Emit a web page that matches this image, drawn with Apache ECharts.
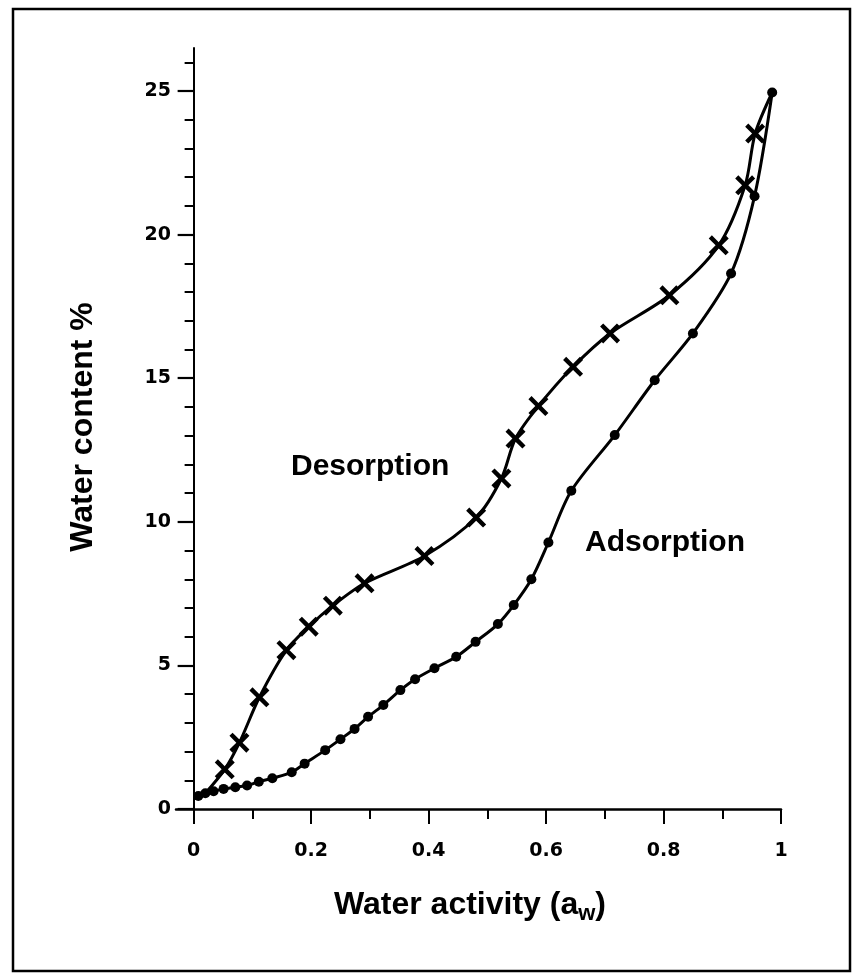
<!DOCTYPE html>
<html>
<head>
<meta charset="utf-8">
<script src="https://cdn.jsdelivr.net/npm/echarts@6/dist/echarts.min.js"></script>
<style>
html,body{margin:0;padding:0;background:#fff;}
#chart{width:852px;height:978px;}
</style>
</head>
<body>
<div id="chart"></div>
<script>
// ---- data ----
const adsorptionX = [0.008, 0.02, 0.034, 0.051, 0.071, 0.091, 0.111, 0.134, 0.167, 0.189, 0.224, 0.25, 0.274, 0.297, 0.323, 0.352, 0.377, 0.41, 0.447, 0.48, 0.518, 0.545, 0.575, 0.604, 0.643, 0.717, 0.785, 0.85, 0.915, 0.955, 0.985];
const adsorptionY = [0.45, 0.55, 0.62, 0.7, 0.76, 0.82, 0.95, 1.07, 1.28, 1.58, 2.05, 2.43, 2.79, 3.21, 3.62, 4.14, 4.52, 4.9, 5.3, 5.82, 6.44, 7.1, 8.0, 9.28, 11.08, 13.02, 14.93, 16.56, 18.65, 21.34, 24.95];
const desorptionX = [0.02, 0.053, 0.078, 0.112, 0.158, 0.196, 0.237, 0.291, 0.393, 0.481, 0.524, 0.548, 0.587, 0.646, 0.709, 0.81, 0.894, 0.939, 0.956, 0.985];
const desorptionY = [0.55, 1.38, 2.31, 3.89, 5.53, 6.35, 7.08, 7.86, 8.81, 10.15, 11.51, 12.9, 14.03, 15.4, 16.56, 17.89, 19.63, 21.72, 23.52, 24.95];
const xMajorTicks = [0, 0.2, 0.4, 0.6, 0.8, 1];
const xMinorTicks = [0.1, 0.3, 0.5, 0.7, 0.9];
const yMajorTicks = [0, 5, 10, 15, 20, 25];
const yMinorTicks = [1, 2, 3, 4, 6, 7, 8, 9, 11, 12, 13, 14, 16, 17, 18, 19, 21, 22, 23, 24, 26];
const xTitle = 'Water activity (a';
const xTitleSub = 'w';
const xTitleEnd = ')';
const yTitle = 'Water content %';
const labelDes = 'Desorption';
const labelAds = 'Adsorption';

const adsData = adsorptionX.map((x, i) => [x, adsorptionY[i]]);
const desData = desorptionX.map((x, i) => {
  const item = { value: [x, desorptionY[i]] };
  if (i === 0 || i === desorptionX.length - 1) item.symbol = 'none';
  return item;
});

const crossPath = 'path://M2.5,0 L8,5.5 L13.5,0 L16,2.5 L10.5,8 L16,13.5 L13.5,16 L8,10.5 L2.5,16 L0,13.5 L5.5,8 L0,2.5 Z';
const tickFont = { fontFamily: 'DejaVu Sans', fontWeight: 'bold', fontSize: 19, color: '#000' };
const titleFont = 'Liberation Sans';
const mainFont = 'bold 32px "' + titleFont + '"';
const subFont = 'bold 22px "' + titleFont + '"';

// measure the x-axis title pieces so the subscript can sit right after the "a"
const mctx = document.createElement('canvas').getContext('2d');
mctx.font = mainFont; const w1 = mctx.measureText(xTitle).width; const w3 = mctx.measureText(xTitleEnd).width;
mctx.font = subFont; const w2 = mctx.measureText(xTitleSub).width;
const titleCenterX = 470, titleY = 905;
const tx0 = titleCenterX - (w1 + w2 + w3) / 2;

const chart = echarts.init(document.getElementById('chart'), null, { renderer: 'canvas' });
chart.setOption({
  backgroundColor: '#fff',
  animation: false,
  grid: { left: 176, right: 71, top: 48, bottom: 169, containLabel: false },
  xAxis: [
    {
      type: 'value', min: -0.03, max: 1, position: 'bottom',
      splitLine: { show: false },
      axisLine: { show: true, onZero: true, lineStyle: { color: '#000', width: 2.5 } },
      axisTick: { show: true, customValues: xMajorTicks, length: 15, lineStyle: { color: '#000', width: 2 } },
      axisLabel: Object.assign({ customValues: xMajorTicks, margin: 33 }, tickFont)
    },
    {
      type: 'value', min: -0.03, max: 1, position: 'bottom',
      splitLine: { show: false },
      axisLine: { show: true, onZero: true, lineStyle: { color: '#000', width: 0, opacity: 0 } },
      axisTick: { show: true, customValues: xMinorTicks, length: 10, lineStyle: { color: '#000', width: 2 } },
      axisLabel: { show: false }
    }
  ],
  yAxis: [
    {
      type: 'value', min: 0, max: 26.5, position: 'left',
      splitLine: { show: false },
      axisLine: { show: true, onZero: true, onZeroAxisIndex: 0, lineStyle: { color: '#000', width: 2 } },
      axisTick: { show: true, customValues: yMajorTicks, length: 16, lineStyle: { color: '#000', width: 2.2 } },
      axisLabel: Object.assign({ customValues: yMajorTicks, margin: 5 }, tickFont)
    },
    {
      type: 'value', min: 0, max: 26.5, position: 'left',
      splitLine: { show: false },
      axisLine: { show: true, onZero: true, onZeroAxisIndex: 0, lineStyle: { color: '#000', width: 0, opacity: 0 } },
      axisTick: { show: true, customValues: yMinorTicks, length: 9, lineStyle: { color: '#000', width: 2 } },
      axisLabel: { show: false }
    }
  ],
  series: [
    {
      name: 'Adsorption', type: 'line', xAxisIndex: 0, yAxisIndex: 0,
      data: adsData, smooth: 0.3,
      symbol: 'circle', symbolSize: 10, showAllSymbol: true,
      lineStyle: { color: '#000', width: 3 },
      itemStyle: { color: '#000' }, z: 3
    },
    {
      name: 'Desorption', type: 'line', xAxisIndex: 0, yAxisIndex: 0,
      data: desData, smooth: 0.3,
      symbol: crossPath, symbolSize: 20, showAllSymbol: true,
      lineStyle: { color: '#000', width: 3 },
      itemStyle: { color: '#000' }, z: 3
    }
  ],
  graphic: [
    { type: 'rect', shape: { x: 13, y: 9, width: 837, height: 962 },
      style: { fill: 'none', stroke: '#000', lineWidth: 2.5 }, silent: true, z: 10 },
    { type: 'text', x: 83, y: 427, rotation: Math.PI / 2,
      style: { text: yTitle, font: mainFont, fill: '#000', textAlign: 'center', textVerticalAlign: 'middle' } },
    { type: 'text', x: tx0, y: titleY,
      style: { text: xTitle, font: mainFont, fill: '#000', textAlign: 'left', textVerticalAlign: 'middle' } },
    { type: 'text', x: tx0 + w1, y: titleY + 9,
      style: { text: xTitleSub, font: subFont, fill: '#000', textAlign: 'left', textVerticalAlign: 'middle' } },
    { type: 'text', x: tx0 + w1 + w2, y: titleY,
      style: { text: xTitleEnd, font: mainFont, fill: '#000', textAlign: 'left', textVerticalAlign: 'middle' } },
    { type: 'text', x: 291, y: 482,
      style: { text: labelDes, font: 'bold 30px "' + titleFont + '"', fill: '#000', textAlign: 'left', textVerticalAlign: 'bottom' } },
    { type: 'text', x: 585, y: 558,
      style: { text: labelAds, font: 'bold 30px "' + titleFont + '"', fill: '#000', textAlign: 'left', textVerticalAlign: 'bottom' } }
  ]
});
</script>
</body>
</html>
